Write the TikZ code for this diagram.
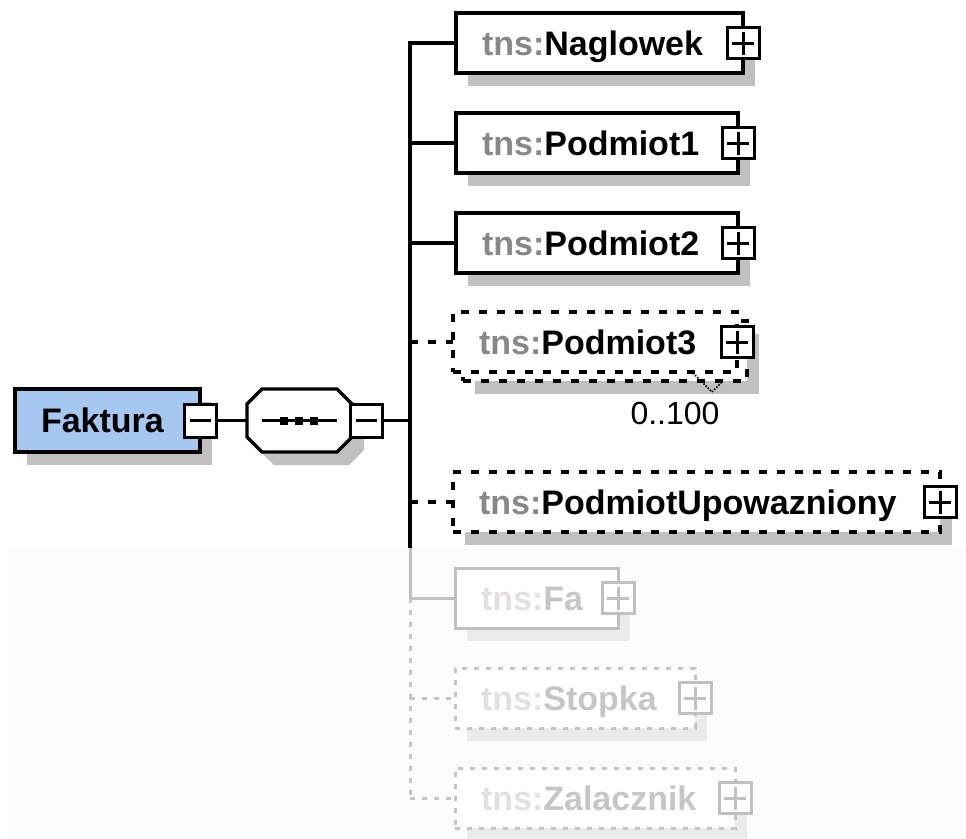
\documentclass[tikz,border=0pt]{standalone}
\usepackage{fontspec}
\setmainfont{Liberation Sans}
\usetikzlibrary{shadows}
\definecolor{shd}{HTML}{C0C0C0}
\definecolor{pfx}{HTML}{888888}
\definecolor{fkfill}{HTML}{A6C8F0}
\definecolor{fadebg}{HTML}{FCFCFC}
\definecolor{fline}{HTML}{C0C0C0}
\definecolor{fdash}{HTML}{C4C4C4}
\definecolor{fshd}{HTML}{EBEBEB}
\definecolor{fpfx}{HTML}{E3E0E0}
\definecolor{fname}{HTML}{C6C6C6}
\newcommand{\tnsel}[1]{{\color{pfx}tns:}#1}
\newcommand{\tnsfd}[1]{{\color{fpfx}tns:}{\color{fname}#1}}
\tikzset{
  lw/.style={line width=3.2pt},
  elbox/.style={draw, lw, fill=white, anchor=north west, minimum height=60pt, outer sep=0pt,
    inner xsep=26pt, inner ysep=0pt, align=left, text height=24.5pt, text depth=0pt,
    font=\fontsize{34}{40}\selectfont\bfseries},
  shad/.style={drop shadow={shadow xshift=12pt, shadow yshift=-13pt, fill=shd, opacity=1, draw=none}},
  fshad/.style={drop shadow={shadow xshift=12pt, shadow yshift=-13pt, fill=fshd, opacity=1, draw=none}},
  optbox/.style={dash pattern=on 8pt off 10pt},
  fadebox/.style={draw=fline, line width=3pt},
  fadeopt/.style={draw=fdash, line width=3pt, dash pattern=on 5pt off 7pt},
  plusbox/.style={draw=#1, line width=3pt, fill=white, minimum width=32pt, minimum height=31pt, inner sep=0pt, outer sep=0pt,
    path picture={
      \draw[#1, line width=3pt] ([xshift=-11pt]path picture bounding box.center) -- ([xshift=11pt]path picture bounding box.center);
      \draw[#1, line width=3pt] ([yshift=-11.5pt]path picture bounding box.center) -- ([yshift=11.5pt]path picture bounding box.center);}},
  plusbox/.default=black,
  minusbox/.style={draw, line width=3pt, fill=white, minimum width=32pt, minimum height=33pt, inner sep=0pt, outer sep=0pt,
    path picture={
      \draw[line width=3pt] ([xshift=-10.5pt]path picture bounding box.center) -- ([xshift=10.5pt]path picture bounding box.center);}},
}
\begin{document}
\begin{tikzpicture}[x=1pt,y=-1pt]
\useasboundingbox (0,0) rectangle (966,838);
\fill[fadebg] (8,548) rectangle (966,838);

% root element
\node[elbox, shad, fill=fkfill, minimum height=63pt, text width=133pt] (fak) at (15,389) {Faktura};
\node[minusbox] (fakm) at (fak.east) {};

% sequence compositor
\node[minimum width=105pt, minimum height=63pt, inner sep=0pt, outer sep=0pt] (seq) at (299.5,420.5) {};
\fill[shd, shift={(12,13)}] (262,389) -- (337,389) -- (352,404) -- (352,437) -- (337,452) -- (262,452) -- (247,437) -- (247,404) -- cycle;
\draw[lw, fill=white] (262,389) -- (337,389) -- (352,404) -- (352,437) -- (337,452) -- (262,452) -- (247,437) -- (247,404) -- cycle;
\draw[line width=3pt] (262,420.5) -- (337,420.5);
\fill (280,416.5) rectangle (288,424.5);
\fill (295,416.5) rectangle (303,424.5);
\fill (310,416.5) rectangle (318,424.5);
\node[minusbox] (seqm) at (366,420.5) {};

% bus junctions
\coordinate (j1) at (410,43);
\coordinate (j2) at (410,143);
\coordinate (j3) at (410,243);
\coordinate (j4) at (410,342);
\coordinate (jm) at (410,420.5);
\coordinate (j5) at (410,502);
\coordinate (jx) at (410,548);
\coordinate (j6) at (410,598);
\coordinate (j7) at (410,698);
\coordinate (j8) at (410,798);

% child elements
\node[elbox, shad, text width=235pt] (nag) at (456,13) {\tnsel{Naglowek}};
\node[plusbox] (nagp) at (nag.east) {};
\node[elbox, shad, text width=230pt] (p1) at (456,113) {\tnsel{Podmiot1}};
\node[plusbox] (p1p) at (p1.east) {};
\node[elbox, shad, text width=230pt] (p2) at (456,213) {\tnsel{Podmiot2}};
\node[plusbox] (p2p) at (p2.east) {};
\node[elbox, shad, optbox, text width=232pt] (p3b) at (463,321) {};
\node[elbox, optbox, text width=232pt] (p3) at (453,312) {\tnsel{Podmiot3}};
\node[plusbox] (p3p) at (p3.east) {};
\draw[line width=1.5pt, dash pattern=on 1.5pt off 1.5pt] (693,373) -- (712,392) -- (721,383);
\node[font=\fontsize{32}{38}\selectfont, inner sep=0pt] (p3occ) at (675,413) {0..100};
\node[elbox, shad, optbox, text width=435pt] (pu) at (453,472) {\tnsel{PodmiotUpowazniony}};
\node[plusbox] (pup) at (pu.east) {};

\node[elbox, fadebox, fshad, text width=111pt] (fa) at (455,568) {\tnsfd{Fa}};
\node[plusbox=fline] (fap) at (fa.east) {};
\node[elbox, fadeopt, fshad, text width=188pt] (st) at (455,668) {\tnsfd{Stopka}};
\node[plusbox=fline] (stp) at (st.east) {};
\node[elbox, fadeopt, fshad, text width=228pt] (za) at (455,768) {\tnsfd{Zalacznik}};
\node[plusbox=fline] (zap) at (za.east) {};

% connectors
\draw[lw] (fakm.east) -- (seq.west);
\draw[lw] (seqm.east) -- (jm);
\draw[lw] (nag.west) -- (j1) -- (jx);
\draw[lw] (j2) -- (p1.west);
\draw[lw] (j3) -- (p2.west);
\draw[lw, optbox] (j4) -- (p3.west);
\draw[lw, optbox] (j5) -- (pu.west);
\draw[line width=3pt, fline] (jx) -- (j6) -- (fa.west);
\draw[line width=3pt, fdash, dash pattern=on 5pt off 7pt] (j6) -- (j8);
\draw[line width=3pt, fdash, dash pattern=on 5pt off 7pt] (j7) -- (st.west);
\draw[line width=3pt, fdash, dash pattern=on 5pt off 7pt] (j8) -- (za.west);
\end{tikzpicture}
\end{document}
